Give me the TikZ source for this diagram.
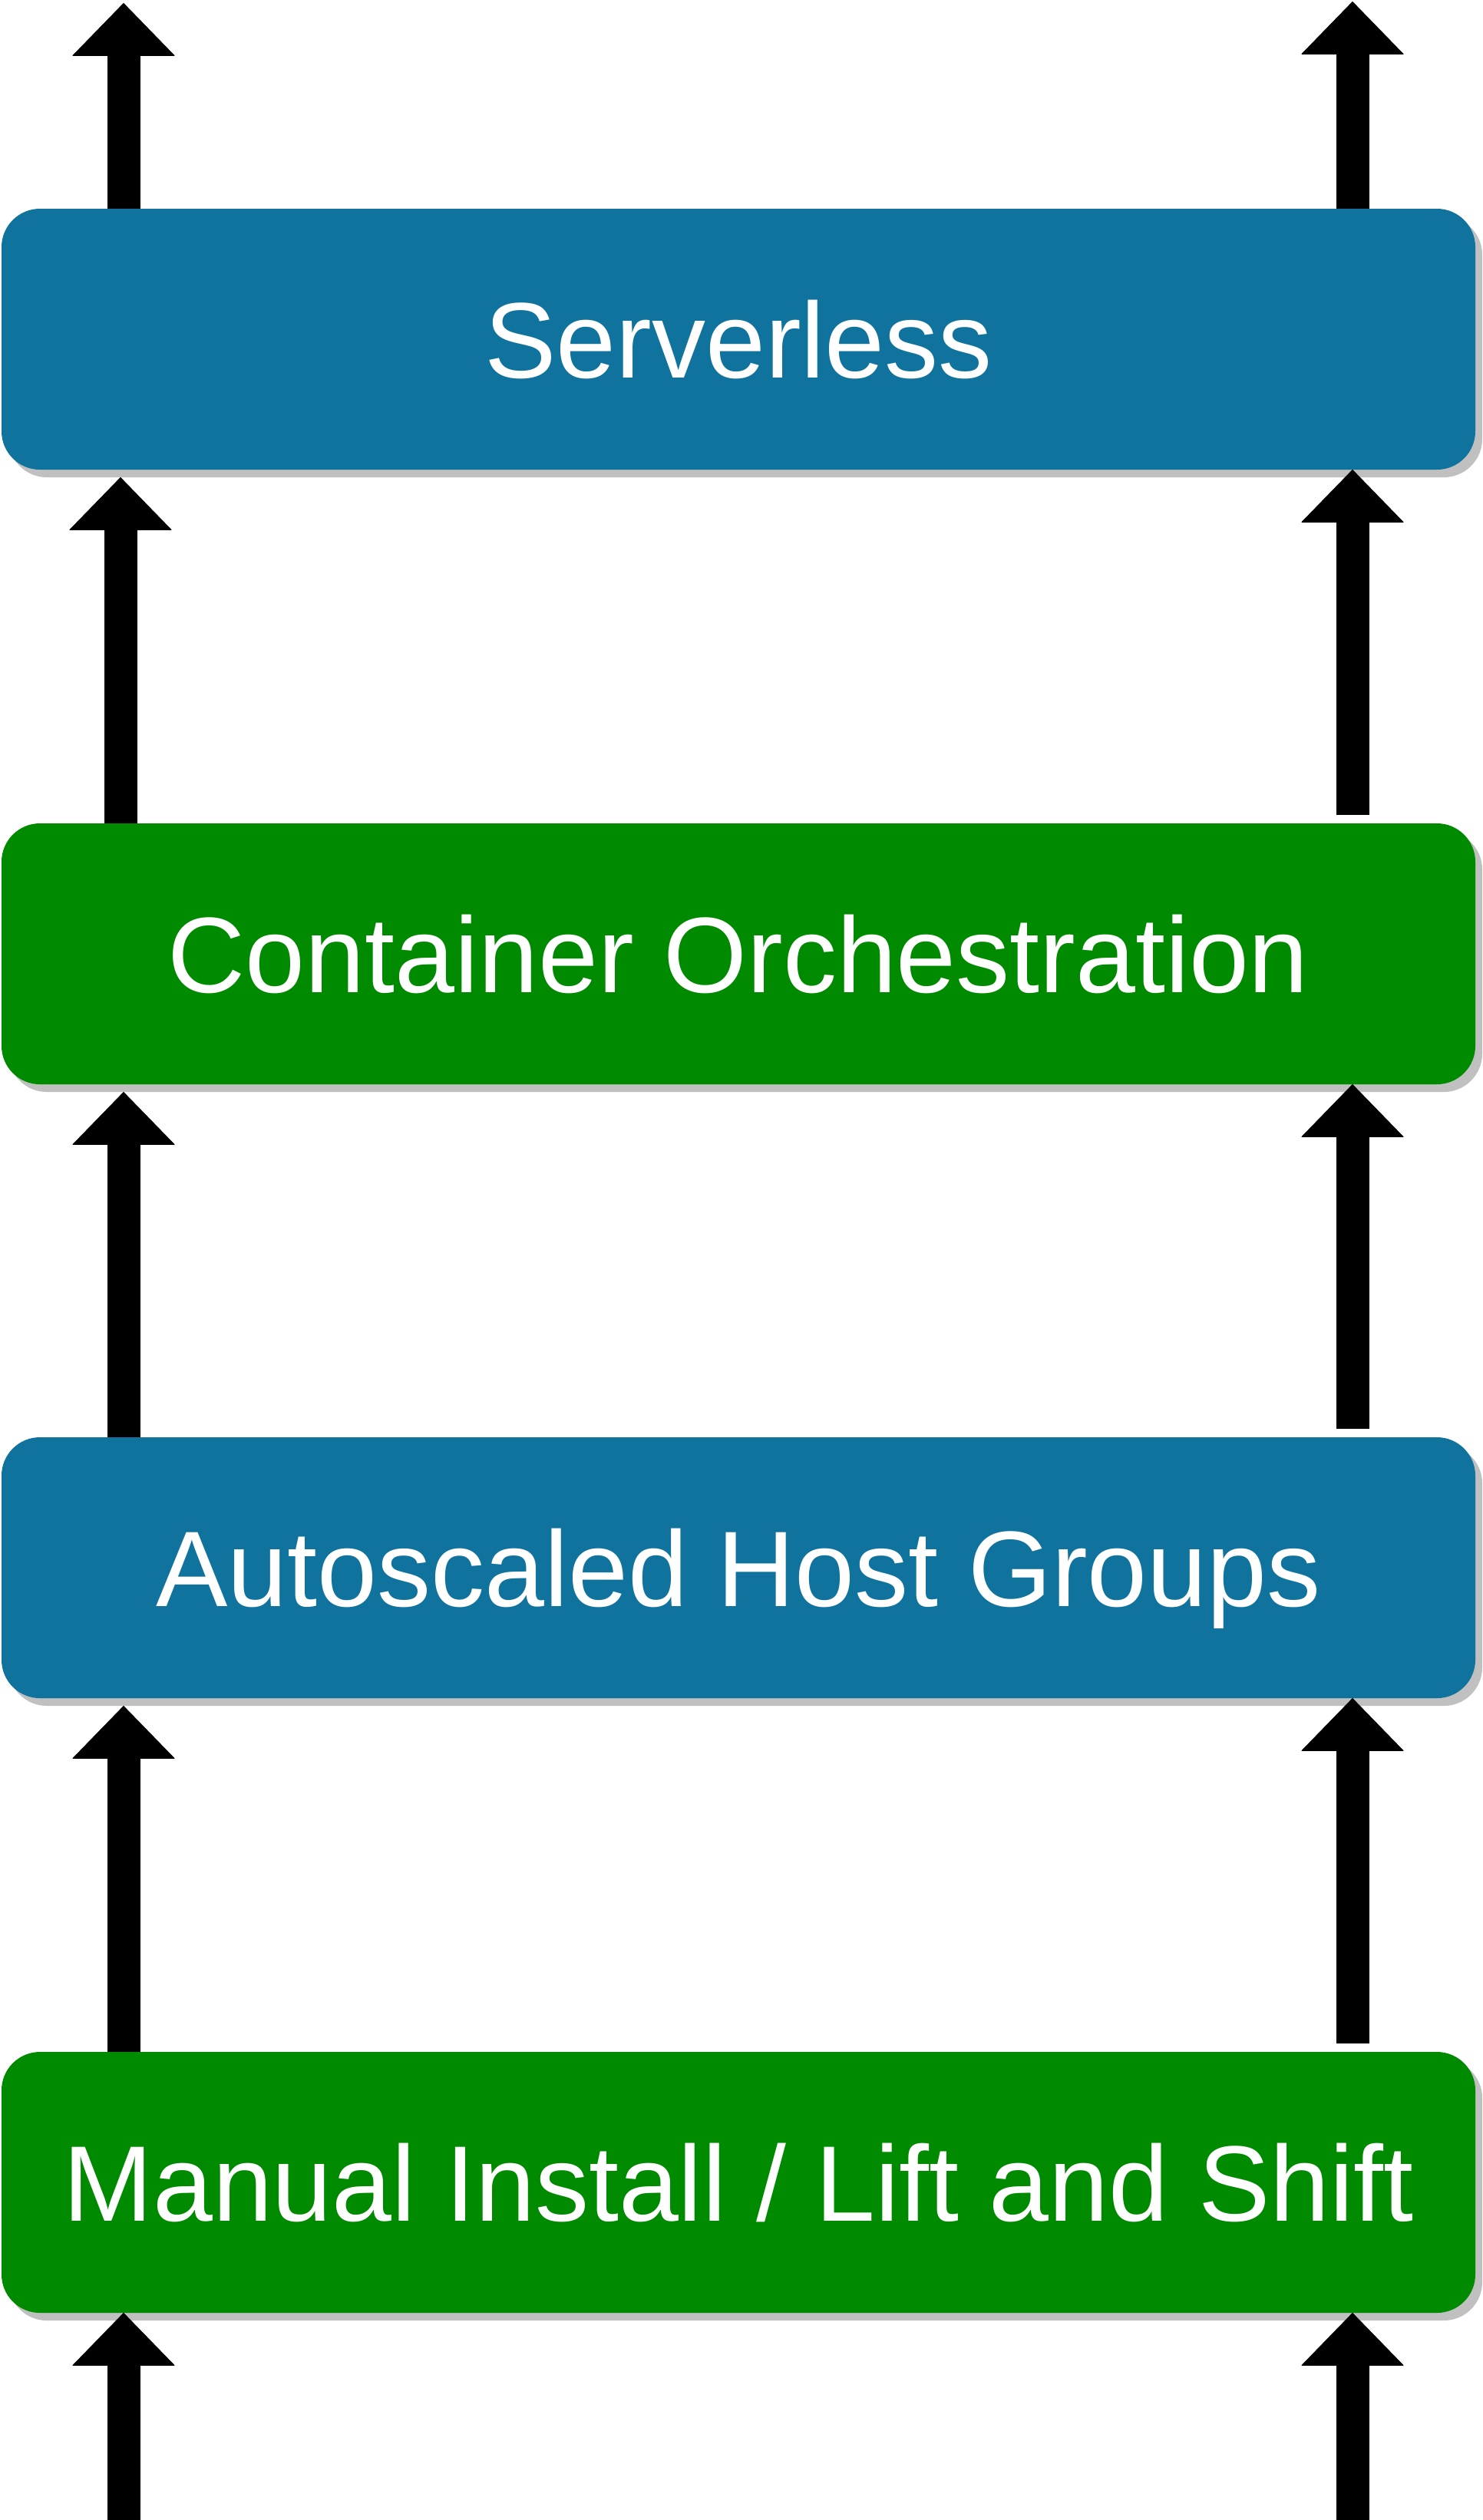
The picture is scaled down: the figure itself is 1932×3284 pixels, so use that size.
\documentclass[tikz,border=0pt]{standalone}
\usepackage{fontspec}
\setmainfont{Liberation Sans}
\usetikzlibrary{arrows.meta,shadows,calc}
\definecolor{boxblue}{HTML}{10739E}
\definecolor{boxgreen}{HTML}{008A00}
\definecolor{shadowgray}{HTML}{C0C0C0}
\tikzset{
  layer/.style={rectangle, rounded corners=25pt, minimum width=960pt, minimum height=170pt,
    inner sep=0pt, outer sep=0pt, text=white, text height=50.1pt, text depth=0pt,
    font=\fontsize{70pt}{80pt}\selectfont,
    drop shadow={shadow xshift=4.5pt, shadow yshift=-5pt, fill=shadowgray, opacity=1}},
  bluebox/.style={layer, fill=boxblue},
  greenbox/.style={layer, fill=boxgreen},
  conn/.style={line width=21.5pt, line cap=butt, black,
    -{Triangle[length=34.5pt 0 0, width=67pt 0 0, line width=0.4pt 0 0, round]}}
}
\begin{document}
\begin{tikzpicture}[x=0.5pt,y=-0.5pt]
\useasboundingbox (0,0) rectangle (1932,3284);
\node[bluebox]  (b1) at (962,442)  {Serverless};
\node[greenbox] (b2) at (962,1243) {Container Orchestration};
\node[bluebox]  (b3) at (962,2043) {Autoscaled Host Groups};
\node[greenbox] (b4) at (962,2844) {Manual Install / Lift and Shift};
\coordinate (Lx) at (161,0);
\coordinate (Lx2) at (157,0);
\coordinate (Rx) at (1762,0);
\coordinate (tl) at (161,4);
\coordinate (tr) at (1762,2);
\coordinate (bl) at (161,3284);
\coordinate (br) at (1762,3284);
% top
\draw[conn] (b1.north -| tl) -- (tl);
\draw[conn] (b1.north -| tr) -- (tr);
% b2 -> b1
\draw[conn] (b2.north -| Lx2) -- ($(b1.south -| Lx2)+(0,10)$);
\draw[conn] ($(b2.north -| Rx)+(0,-11)$) -- (b1.south -| Rx);
% b3 -> b2
\draw[conn] (b3.north -| Lx) -- ($(b2.south -| Lx)+(0,10)$);
\draw[conn] ($(b3.north -| Rx)+(0,-11)$) -- (b2.south -| Rx);
% b4 -> b3
\draw[conn] (b4.north -| Lx) -- ($(b3.south -| Lx)+(0,10)$);
\draw[conn] ($(b4.north -| Rx)+(0,-11)$) -- (b3.south -| Rx);
% bottom
\draw[conn] (bl) -- (b4.south -| bl);
\draw[conn] (br) -- (b4.south -| br);
\end{tikzpicture}
\end{document}
